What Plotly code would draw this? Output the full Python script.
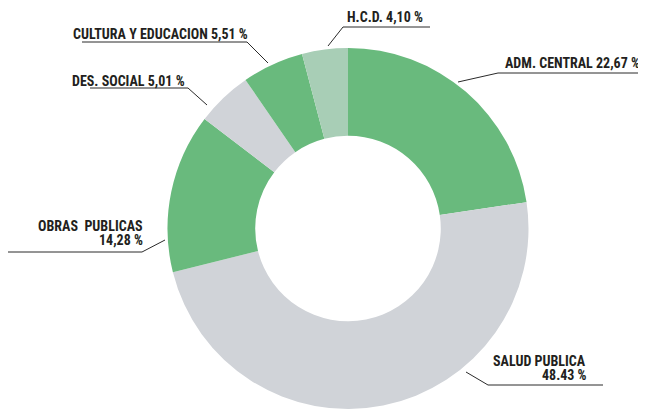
import plotly.graph_objects as go

# Data
categories = ["ADM. CENTRAL", "SALUD PUBLICA", "OBRAS  PUBLICAS", "DES. SOCIAL",
              "CULTURA Y EDUCACION", "H.C.D."]
values = [22.67, 48.43, 14.28, 5.01, 5.51, 4.10]
value_labels = ["22,67 %", "48.43 %", "14,28 %", "5,01 %", "5,51 %", "4,10 %"]
colors = ["#69BA7D", "#D0D3D8", "#69BA7D", "#D0D3D8", "#69BA7D", "#A8CEB6"]

OFF = 8  # body margin of the page
W, H = 646 - OFF, 409 - OFF


def px(x, y):
    return (x - OFF) / W, 1 - (y - OFF) / H


fig = go.Figure()
fig.add_trace(go.Pie(
    labels=categories, values=values, sort=False, direction="clockwise",
    rotation=0, hole=0.514, textinfo="none", hoverinfo="label+percent",
    marker=dict(colors=colors, line=dict(width=0)),
    domain=dict(x=[(166 - OFF) / W, (530 - OFF) / W], y=[0, 361 / H]),
    showlegend=False,
))

leaders = [
    [(328, 46), (343, 27), (430, 27)],
    [(458, 82), (498, 73), (646, 73)],
    [(268, 63), (247, 42), (82, 42)],
    [(207, 105), (188, 88), (90, 88)],
    [(165, 240), (142, 252), (6, 252)],
    [(466, 372), (488, 385), (603, 385)],
]
shapes = []
for pts in leaders:
    path = ""
    for i, (x, y) in enumerate(pts):
        X, Y = px(x, y)
        path += ("M" if i == 0 else " L") + f" {X} {Y}"
    shapes.append(dict(type="path", xref="paper", yref="paper", path=path,
                       line=dict(color="#2a2a2a", width=1)))

font = dict(family="Roboto Condensed, Open Sans Condensed, DejaVu Sans Condensed, sans-serif",
            size=14, color="#231F20", weight="bold")

label_specs = [
    (f"{categories[5]} {value_labels[5]}", 385, 17, "center"),
    (f"{categories[0]} {value_labels[0]}", 572, 63, "center"),
    (f"{categories[4]} {value_labels[4]}", 160, 34, "center"),
    (f"{categories[3]} {value_labels[3]}", 128, 81, "center"),
    (categories[2].replace("  ", "&nbsp; "), 145, 226, "right"),
    (value_labels[2], 145, 240, "right"),
    (categories[1], 588, 361, "right"),
    (value_labels[1], 589, 375, "right"),
]
annotations = []
for text, x, y, xa in label_specs:
    X, Y = px(x, y)
    annotations.append(dict(text=text, x=X, y=Y, xref="paper", yref="paper",
                            xanchor=xa, yanchor="middle", showarrow=False,
                            font=font))

fig.update_layout(
    width=W, height=H, margin=dict(l=0, r=0, t=0, b=0),
    paper_bgcolor="white", plot_bgcolor="white",
    shapes=shapes, annotations=annotations,
)

fig.write_html("out.html")
